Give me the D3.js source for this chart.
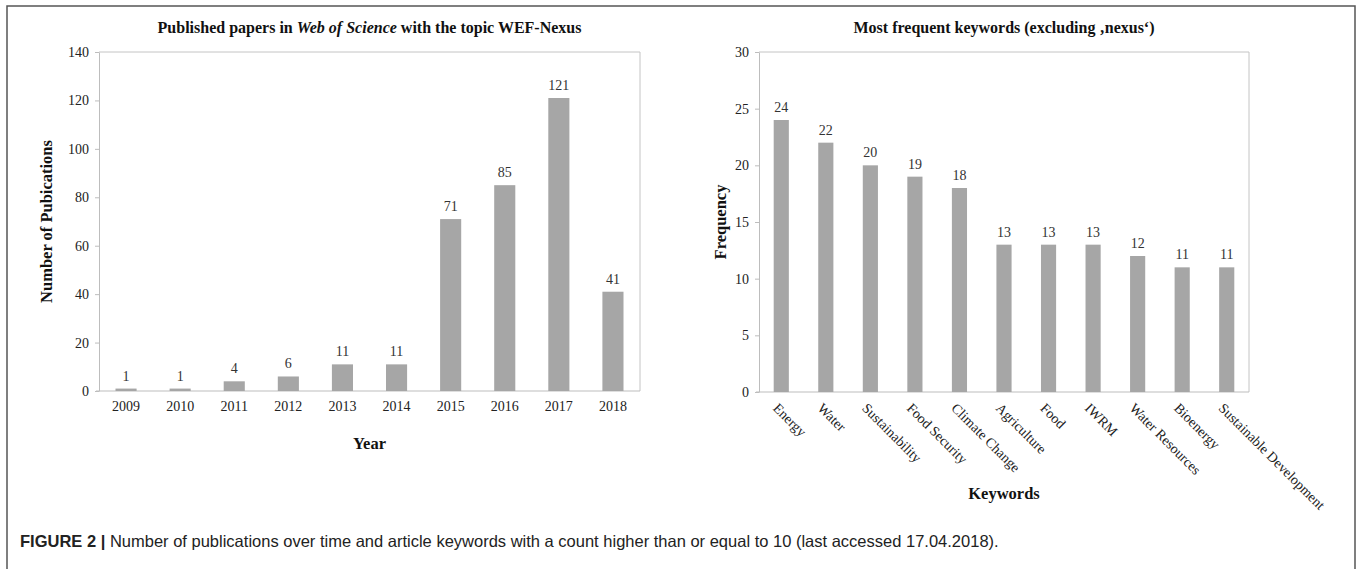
<!DOCTYPE html>
<html lang="en">
<head>
  <meta charset="UTF-8">
  <title>WEF-Nexus publications and keywords</title>
  <script src="https://d3js.org/d3.v7.min.js"></script>
  <style>
    body { margin: 0; background: #fff; }
    .tick text { font-family: "Liberation Serif", serif; font-size: 14px; fill: #222; }
    .tick line, .domain { stroke: #bdbdbd; }
    .bar { fill: #a6a6a6; }
    .val { font-family: "Liberation Serif", serif; font-size: 14px; fill: #333; text-anchor: middle; }
    .title { font-family: "Liberation Serif", serif; font-size: 16px; font-weight: bold; text-anchor: middle; fill: #111; }
    .axlabel { font-family: "Liberation Serif", serif; font-size: 16.5px; font-weight: bold; text-anchor: middle; fill: #111; }
    .caption { font-family: "Liberation Sans", Arial, sans-serif; font-size: 16.5px; fill: #222; }
  </style>
</head>
<body>
  <svg id="fig" width="1358" height="569"></svg>

  <script>
    // publications per year
    const years = ["2009", "2010", "2011", "2012", "2013", "2014", "2015", "2016", "2017", "2018"];
    const papers = [1, 1, 4, 6, 11, 11, 71, 85, 121, 41];
    const paperTicks = [0, 20, 40, 60, 80, 100, 120, 140];

    // keyword counts
    const keywords = ["Energy", "Water", "Sustainability", "Food Security", "Climate Change",
      "Agriculture", "Food", "IWRM", "Water Resources", "Bioenergy", "Sustainable Development"];
    const counts = [24, 22, 20, 19, 18, 13, 13, 13, 12, 11, 11];
    const countTicks = [0, 5, 10, 15, 20, 25, 30];

    const svg = d3.select("#fig");

    // outer frame
    svg.append("rect")
      .attr("x", 7).attr("y", 6)
      .attr("width", 1348).attr("height", 600)
      .attr("fill", "none").attr("stroke", "#555").attr("stroke-width", 1.5);

    function drawChart(opt) {
      const x = d3.scaleBand().domain(opt.cats).range([opt.x0, opt.x1])
        .paddingInner(opt.pad).paddingOuter(opt.pad / 2);
      const y = d3.scaleLinear().domain([0, opt.max]).range([opt.y0, opt.y1]);
      const g = svg.append("g");

      // plot border (top + right)
      g.append("path")
        .attr("d", `M${opt.x0},${opt.y1}H${opt.x1}V${opt.y0}`)
        .attr("fill", "none").attr("stroke", "#c4c4c4");

      g.append("g")
        .attr("transform", `translate(${opt.x0},0)`)
        .call(d3.axisLeft(y).tickValues(opt.ticks).tickSize(4).tickPadding(6).tickSizeOuter(0));

      const xa = g.append("g")
        .attr("transform", `translate(0,${opt.y0})`)
        .call(d3.axisBottom(x).tickSize(0).tickSizeOuter(0).tickPadding(9));
      xa.select(".domain").attr("d", `M${opt.x0 - 3},0H${opt.x1}`);
      if (opt.rotate) {
        xa.selectAll(".tick text")
          .attr("text-anchor", "start")
          .attr("y", 0).attr("dy", 0)
          .attr("transform", "translate(-9,17) rotate(45)");
      } else {
        xa.selectAll(".tick text").attr("dy", "0.8em");
      }

      g.selectAll(".bar").data(opt.vals).enter().append("rect")
        .attr("class", "bar")
        .attr("x", (d, i) => x(opt.cats[i]))
        .attr("y", d => y(d))
        .attr("width", x.bandwidth())
        .attr("height", d => opt.y0 - y(d));

      g.selectAll(".val").data(opt.vals).enter().append("text")
        .attr("class", "val")
        .attr("x", (d, i) => x(opt.cats[i]) + x.bandwidth() / 2)
        .attr("y", d => y(d) - 8)
        .text(d => d);

      const title = g.append("text").attr("class", "title")
        .attr("x", (opt.x0 + opt.x1) / 2).attr("y", 33);
      opt.title.forEach(p => title.append("tspan").attr("font-style", p.i ? "italic" : null).text(p.t));

      g.append("text").attr("class", "axlabel")
        .attr("x", (opt.x0 + opt.x1) / 2).attr("y", opt.xlabY)
        .text(opt.xlab);

      g.append("text").attr("class", "axlabel")
        .attr("transform", `translate(${opt.ylabX},${(opt.y0 + opt.y1) / 2}) rotate(-90)`)
        .text(opt.ylab);
    }

    drawChart({
      cats: years, vals: papers, ticks: paperTicks, max: 140,
      x0: 99, x1: 640, y0: 391, y1: 52, pad: 0.61,
      title: [{ t: "Published papers in " }, { t: "Web of Science", i: true }, { t: " with the topic WEF-Nexus" }],
      xlab: "Year", xlabY: 449, ylab: "Number of Pubications", ylabX: 52
    });

    drawChart({
      cats: keywords, vals: counts, ticks: countTicks, max: 30,
      x0: 759, x1: 1249, y0: 392, y1: 52, pad: 0.66, rotate: true,
      title: [{ t: "Most frequent keywords (excluding \u201Anexus\u2018)" }],
      xlab: "Keywords", xlabY: 499, ylab: "Frequency", ylabX: 726
    });

    // caption
    const cap = svg.append("text").attr("class", "caption").attr("x", 20).attr("y", 547);
    cap.append("tspan").attr("font-weight", "bold").text("FIGURE 2 | ");
    cap.append("tspan").text("Number of publications over time and article keywords with a count higher than or equal to 10 (last accessed 17.04.2018).");
  </script>
</body>
</html>
